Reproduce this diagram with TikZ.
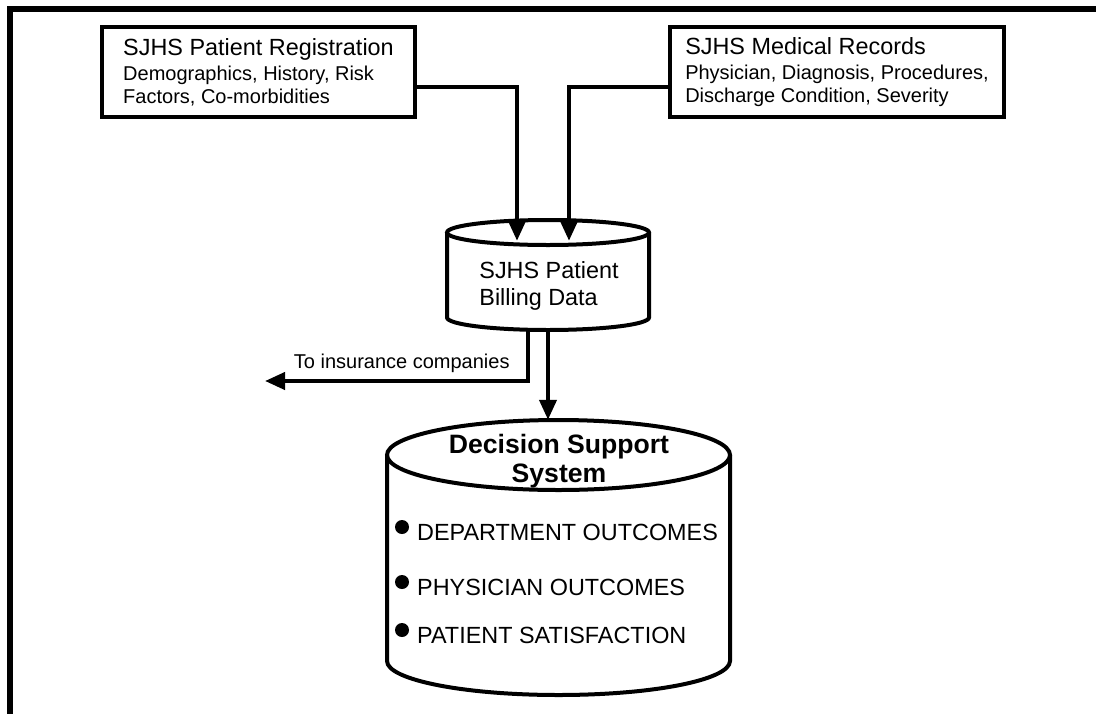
\documentclass[tikz,border=0pt]{standalone}
\usepackage{fontspec}
\setmainfont{Liberation Sans}
\usetikzlibrary{arrows.meta}

\begin{document}
\begin{tikzpicture}[x=1pt,y=-1pt,
	src/.style={draw, line width=4pt, rectangle, align=left, minimum height=90pt, font=\fontsize{20}{23}\selectfont},
	store/.style={rectangle, inner sep=0pt},
	rim/.style={line width=4pt},
	flow/.style={line width=4pt, -{Triangle[length=20pt,width=17pt]}},
	head/.style={font=\fontsize{23.4}{27}\selectfont}]
	\useasboundingbox (0,0) rectangle (1096,713);
	\draw[line width=6pt] (10,730) -- (10,9) -- (1110,9);

	\node[src, minimum width=313pt] (reg) at (258.5,72) {{\fontsize{23.4}{27}\selectfont SJHS Patient Registration}\\[2pt]Demographics, History, Risk\\Factors, Co-morbidities};
	\node[src, minimum width=334pt] (med) at (837,72) {{\fontsize{23.4}{27}\selectfont SJHS Medical Records}\\[2pt]Physician, Diagnosis, Procedures,\\Discharge Condition, Severity};

	% billing data store
	\node[store, minimum width=202pt, minimum height=110pt] (bill) at (548,275) {};
	\draw[rim] (548,232.5) ellipse (101 and 12.5);
	\draw[rim] (447,232.5) -- (447,317.5) arc (180:0:101 and 12.5) -- (649,232.5);
	\node[head, align=left] (billtxt) at (549,286) {SJHS Patient\\Billing Data};

	% decision support store
	\node[store, minimum width=343pt, minimum height=275pt] (dss) at (558.5,557.5) {};
	\draw[rim] (558.5,455) ellipse (171.5 and 35);
	\draw[rim] (387,455) -- (387,661) arc (180:0:171.5 and 34) -- (730,455);
	\node[align=center, font=\bfseries\fontsize{26.6}{29}\selectfont] (dsstitle) at (559,461) {Decision Support\\System};
	\foreach \y/\t [count=\i] in {540/DEPARTMENT OUTCOMES, 595/PHYSICIAN OUTCOMES, 643/PATIENT SATISFACTION} {
		\fill (402,{\y-13}) circle (7);
		\node[head, anchor=base west, inner sep=0pt] (item\i) at (417,\y) {\t};
	}
	\coordinate (ins) at (265,381);

	\draw[flow] ([yshift=-15pt]reg.east) -| ([xshift=-31pt,yshift=-21pt]bill.north);
	\draw[flow] ([yshift=-15pt]med.west) -| ([xshift=21pt,yshift=-21pt]bill.north);
	\draw[flow] (bill.south) -- (bill.south |- dss.north);
	\draw[flow] ([xshift=-20pt]bill.south) |- node[pos=0.74, above, yshift=3pt, font=\fontsize{20}{23}\selectfont] {To insurance companies} (ins);
\end{tikzpicture}
\end{document}
